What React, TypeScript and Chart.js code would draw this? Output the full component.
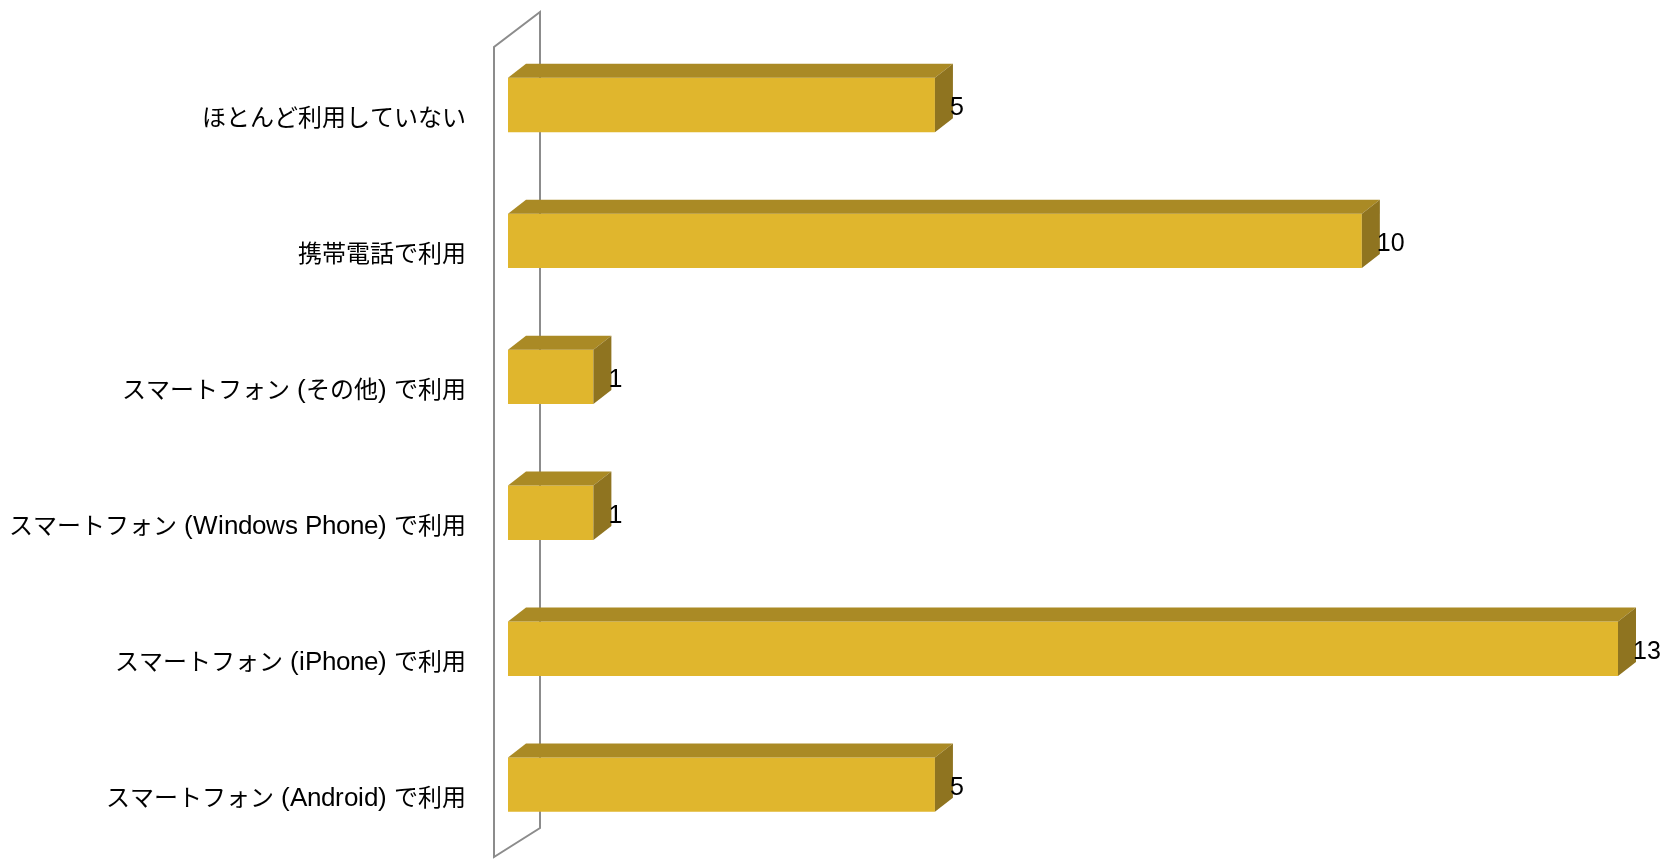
import React, { useEffect, useRef } from "react";
import { Chart, registerables } from "chart.js";

Chart.register(...registerables);

const categories = [
  "ほとんど利用していない",
  "携帯電話で利用",
  "スマートフォン (その他) で利用",
  "スマートフォン (Windows Phone) で利用",
  "スマートフォン (iPhone) で利用",
  "スマートフォン (Android) で利用",
];
const counts = [5, 10, 1, 1, 13, 5];

const FRONT = "#E0B62D";
const TOP = "#AA8A25";
const SIDE = "#8F7420";
const WALL = "#8C8C8C";
const FONT = "'LatinWide', 'Liberation Sans', Arial, 'Noto Sans CJK JP', sans-serif";
const DX = 18;
const DY = -14;

const FONT_FACE = `@font-face { font-family: 'LatinWide'; src: local('Liberation Sans'), local('LiberationSans-Regular'), local('Liberation Sans Regular'); unicode-range: U+0000-024F; size-adjust: 109%; }`;

const bar3d = {
  id: "bar3d",
  beforeDatasetsDraw(chart: any) {
    const { ctx, chartArea } = chart;
    const { left, top, bottom } = chartArea;
    const x0 = left - 14;
    const x1 = left + 32;
    ctx.save();
    ctx.strokeStyle = WALL;
    ctx.lineWidth = 2;
    ctx.beginPath();
    ctx.moveTo(x0, bottom + 4.4);
    ctx.lineTo(x0, top + 10);
    ctx.lineTo(x1, top - 25);
    ctx.lineTo(x1, bottom - 24.6);
    ctx.closePath();
    ctx.stroke();
    ctx.restore();
  },
  afterDatasetsDraw(chart: any) {
    const { ctx } = chart;
    const meta = chart.getDatasetMeta(0);
    ctx.save();
    meta.data.forEach((el: any, i: number) => {
      const { x, y, base, height } = el.getProps(["x", "y", "base", "height"], true);
      const t = y - height / 2;
      const b = y + height / 2;
      ctx.fillStyle = TOP;
      ctx.beginPath();
      ctx.moveTo(base, t);
      ctx.lineTo(base + DX, t + DY);
      ctx.lineTo(x + DX, t + DY);
      ctx.lineTo(x, t);
      ctx.closePath();
      ctx.fill();
      ctx.fillStyle = SIDE;
      ctx.beginPath();
      ctx.moveTo(x, t);
      ctx.lineTo(x + DX, t + DY);
      ctx.lineTo(x + DX, b + DY);
      ctx.lineTo(x, b);
      ctx.closePath();
      ctx.fill();
      ctx.fillStyle = "#000";
      ctx.font = `25px 'Liberation Sans', Arial, sans-serif`;
      ctx.textAlign = "left";
      ctx.textBaseline = "middle";
      ctx.fillText(String(counts[i]), x + 15, y + 3);
    });
    ctx.restore();
  },
};

export default function App() {
  const ref = useRef<HTMLCanvasElement | null>(null);
  useEffect(() => {
    if (!ref.current) return;
    const style = document.createElement("style");
    style.textContent = FONT_FACE;
    document.head.appendChild(style);
    const chart = new Chart(ref.current, {
      type: "bar",
      data: {
        labels: categories,
        datasets: [
          {
            data: counts,
            backgroundColor: FRONT,
            borderWidth: 0,
            barPercentage: 1,
            categoryPercentage: 0.4,
          },
        ],
      },
      options: {
        indexAxis: "y",
        responsive: false,
        animation: false,
        layout: { padding: { top: 37, bottom: 6.4, right: 46, left: 0 } },
        plugins: {
          legend: { display: false },
          tooltip: { enabled: false },
        },
        scales: {
          x: {
            display: false,
            min: 0,
            max: 13,
          },
          y: {
            afterFit: (scale: any) => {
              scale.width = 508;
              scale.paddingTop = 0;
              scale.paddingBottom = 0;
            },
            grid: { display: false, drawTicks: false },
            border: { display: false },
            ticks: {
              color: "#000",
              padding: 42,
              labelOffset: 14,
              font: { family: FONT, size: 24 },
            },
          },
        },
      },
      plugins: [bar3d],
    });
    let alive = true;
    const fonts: any = (document as any).fonts;
    if (fonts && fonts.load) {
      fonts
        .load("24px LatinWide", "Windows")
        .then(() => {
          if (alive) chart.update();
        })
        .catch(() => {});
    }
    return () => {
      alive = false;
      chart.destroy();
      style.remove();
    };
  }, []);
  return (
    <div style={{ position: "fixed", left: 0, top: 0, width: 1664, height: 859, background: "#fff" }}>
      <canvas ref={ref} width={1664} height={859} style={{ width: 1664, height: 859 }} />
    </div>
  );
}
